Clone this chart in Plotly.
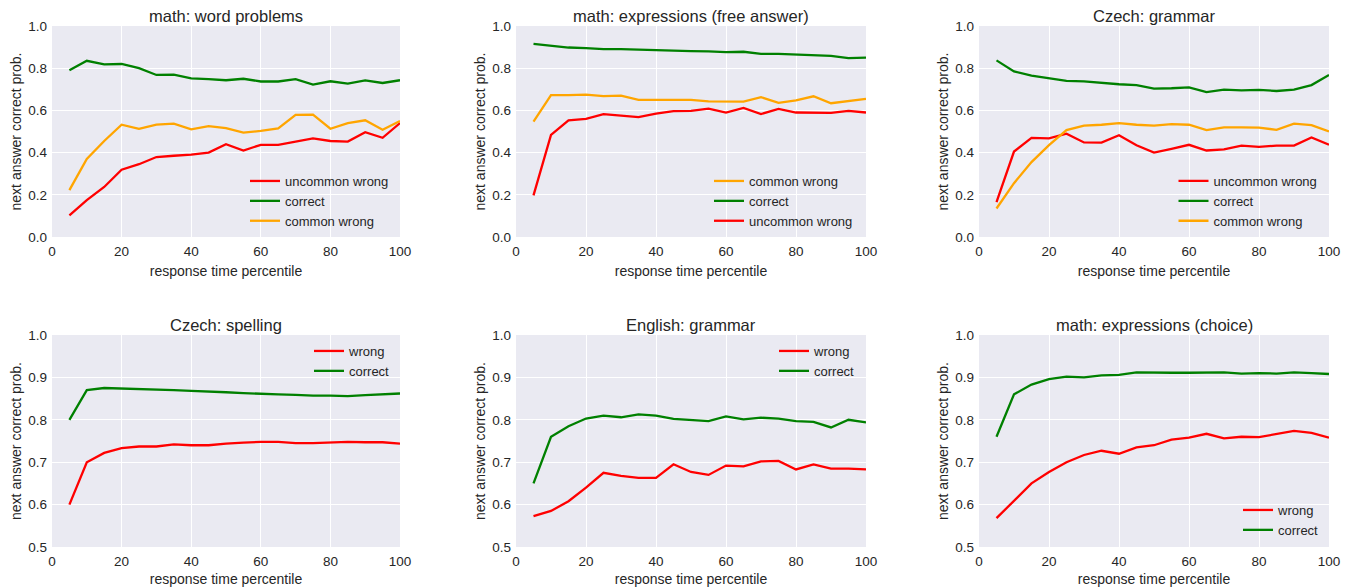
import plotly.graph_objects as go

W, H = 1356, 587
ML, MR, MT, MB = 52, 27, 26, 40

x_pct = [5, 10, 15, 20, 25, 30, 35, 40, 45, 50, 55, 60, 65, 70, 75, 80, 85, 90, 95, 100]

# math: word problems
wp_correct = [0.79, 0.835, 0.818, 0.82, 0.80, 0.768, 0.77, 0.752, 0.748, 0.743, 0.75, 0.737, 0.737, 0.748, 0.722, 0.738, 0.727, 0.742, 0.73, 0.743]
wp_common = [0.222, 0.37, 0.455, 0.532, 0.513, 0.533, 0.537, 0.51, 0.525, 0.516, 0.495, 0.503, 0.515, 0.579, 0.58, 0.513, 0.54, 0.553, 0.508, 0.55]
wp_uncommon = [0.103, 0.175, 0.237, 0.319, 0.345, 0.379, 0.385, 0.39, 0.40, 0.44, 0.41, 0.437, 0.437, 0.453, 0.467, 0.455, 0.452, 0.497, 0.47, 0.54]

# math: expressions (free answer)
ef_correct = [0.915, 0.905, 0.898, 0.895, 0.89, 0.89, 0.887, 0.884, 0.884, 0.881, 0.88, 0.876, 0.878, 0.868, 0.868, 0.865, 0.862, 0.858, 0.848, 0.85]
ef_common = [0.547, 0.672, 0.672, 0.675, 0.668, 0.67, 0.65, 0.65, 0.647, 0.65, 0.643, 0.641, 0.642, 0.663, 0.636, 0.647, 0.667, 0.634, 0.645, 0.655]
ef_uncommon = [0.197, 0.484, 0.553, 0.56, 0.582, 0.575, 0.568, 0.585, 0.597, 0.598, 0.608, 0.59, 0.612, 0.583, 0.607, 0.59, 0.59, 0.588, 0.598, 0.59]

# Czech: grammar
cg_correct = [0.837, 0.785, 0.765, 0.753, 0.74, 0.738, 0.73, 0.724, 0.72, 0.703, 0.705, 0.709, 0.687, 0.698, 0.695, 0.697, 0.692, 0.698, 0.72, 0.768]
cg_common = [0.135, 0.255, 0.355, 0.435, 0.507, 0.528, 0.532, 0.54, 0.532, 0.528, 0.535, 0.532, 0.507, 0.52, 0.52, 0.518, 0.508, 0.537, 0.53, 0.5]
cg_uncommon = [0.165, 0.405, 0.47, 0.467, 0.49, 0.448, 0.447, 0.482, 0.435, 0.4, 0.418, 0.437, 0.41, 0.415, 0.433, 0.427, 0.433, 0.433, 0.472, 0.437]

# Czech: spelling
cs_correct = [0.80, 0.87, 0.875, 0.874, 0.873, 0.872, 0.87, 0.868, 0.867, 0.865, 0.863, 0.861, 0.86, 0.859, 0.857, 0.857, 0.856, 0.858, 0.86, 0.862]
cs_wrong = [0.60, 0.70, 0.722, 0.733, 0.737, 0.737, 0.742, 0.74, 0.74, 0.744, 0.746, 0.748, 0.748, 0.745, 0.745, 0.746, 0.748, 0.747, 0.747, 0.744]

# English: grammar
eg_correct = [0.65, 0.76, 0.785, 0.803, 0.81, 0.806, 0.813, 0.81, 0.802, 0.80, 0.797, 0.808, 0.801, 0.805, 0.803, 0.797, 0.795, 0.782, 0.80, 0.794]
eg_wrong = [0.573, 0.585, 0.608, 0.64, 0.675, 0.668, 0.663, 0.663, 0.695, 0.677, 0.67, 0.692, 0.69, 0.702, 0.703, 0.683, 0.695, 0.685, 0.685, 0.683]

# math: expressions (choice)
ec_correct = [0.76, 0.86, 0.883, 0.896, 0.902, 0.90, 0.905, 0.906, 0.912, 0.911, 0.911, 0.911, 0.912, 0.912, 0.909, 0.91, 0.909, 0.912, 0.91, 0.908]
ec_wrong = [0.568, 0.61, 0.65, 0.677, 0.70, 0.717, 0.727, 0.72, 0.735, 0.74, 0.753, 0.758, 0.767, 0.756, 0.76, 0.759, 0.767, 0.774, 0.769, 0.758]

titles = ["math: word problems", "math: expressions (free answer)", "Czech: grammar",
          "Czech: spelling", "English: grammar", "math: expressions (choice)"]
x_ticks = [0, 20, 40, 60, 80, 100]
y_ticks_top = [0.0, 0.2, 0.4, 0.6, 0.8, 1.0]
y_ticks_bottom = [0.5, 0.6, 0.7, 0.8, 0.9, 1.0]

RED, GREEN, ORANGE = "#ff0000", "#008000", "#ffa500"

panels = [
    [("uncommon wrong", wp_uncommon, RED), ("correct", wp_correct, GREEN), ("common wrong", wp_common, ORANGE)],
    [("common wrong", ef_common, ORANGE), ("correct", ef_correct, GREEN), ("uncommon wrong", ef_uncommon, RED)],
    [("uncommon wrong", cg_uncommon, RED), ("correct", cg_correct, GREEN), ("common wrong", cg_common, ORANGE)],
    [("wrong", cs_wrong, RED), ("correct", cs_correct, GREEN)],
    [("wrong", eg_wrong, RED), ("correct", eg_correct, GREEN)],
    [("wrong", ec_wrong, RED), ("correct", ec_correct, GREEN)],
]

# pixel boxes of plot areas: (left, right, top, bottom)
cols = [(52, 400), (516, 866), (979, 1329)]
rows = [(26, 237), (335, 547)]
PW, PH = W - ML - MR, H - MT - MB

def px2x(px):
    return (px - ML) / PW

def px2y(py):
    return (H - MB - py) / PH

# legend (text x, center y) in pixels
legend_pos = [(287, 201), (751, 201), (1215.5, 201), (351, 361), (816, 361), (1280, 520)]

FONT = "Liberation Sans, Arial, sans-serif"
TXT = "#262626"

fig = go.Figure()
layout = dict(
    width=W, height=H,
    margin=dict(l=ML, r=MR, t=MT, b=MB, autoexpand=False),
    paper_bgcolor="white", plot_bgcolor="#eaeaf2",
    font=dict(family=FONT, size=13, color=TXT),
    showlegend=True,
    annotations=[],
)

for i, series in enumerate(panels):
    r, c = divmod(i, 3)
    xa = "x" if i == 0 else f"x{i+1}"
    ya = "y" if i == 0 else f"y{i+1}"
    lg = "legend" if i == 0 else f"legend{i+1}"
    for name, vals, col in series:
        fig.add_trace(go.Scatter(x=x_pct, y=vals, mode="lines", name=name,
                                 line=dict(color=col, width=2.3),
                                 xaxis=xa, yaxis=ya, legend=lg))
    l, rr = cols[c]
    t, b = rows[r]
    axkey = "xaxis" if i == 0 else f"xaxis{i+1}"
    aykey = "yaxis" if i == 0 else f"yaxis{i+1}"
    layout[axkey] = dict(domain=[px2x(l), px2x(rr)], anchor=ya, range=[0, 100],
                         tickvals=x_ticks, showgrid=True, gridcolor="white", gridwidth=1.3,
                         zeroline=False, showline=False, ticks="", automargin=False,
                         ticklabelstandoff=4,
                         tickfont=dict(size=13.5, color=TXT),
                         title=dict(text="response time percentile", font=dict(size=14, color=TXT), standoff=8))
    yt = y_ticks_top if r == 0 else y_ticks_bottom
    layout[aykey] = dict(domain=[px2y(b), px2y(t)], anchor=xa, range=[yt[0], yt[-1]],
                         tickvals=yt, tickformat=".1f", showgrid=True, gridcolor="white", gridwidth=1.3,
                         zeroline=False, showline=False, ticks="", automargin=False,
                         ticklabelstandoff=4,
                         tickfont=dict(size=13.5, color=TXT),
                         title=dict(text="next answer correct prob.", font=dict(size=14, color=TXT), standoff=3))
    tx, ty = legend_pos[i]
    layout[lg] = dict(x=px2x(tx - 42), xanchor="left", y=px2y(ty), yanchor="middle",
                      bgcolor="rgba(0,0,0,0)", borderwidth=0,
                      font=dict(size=13, color=TXT), tracegroupgap=0)
    layout["annotations"].append(dict(text=titles[i], x=(px2x(l) + px2x(rr)) / 2, y=px2y(t + 1),
                                      xref="paper", yref="paper", xanchor="center", yanchor="bottom",
                                      showarrow=False, font=dict(size=16.5, color=TXT)))

fig.update_layout(**layout)
fig.write_html("out.html", config={"displayModeBar": False},
               post_script="document.body.style.margin='0';document.body.style.overflow='hidden';")
